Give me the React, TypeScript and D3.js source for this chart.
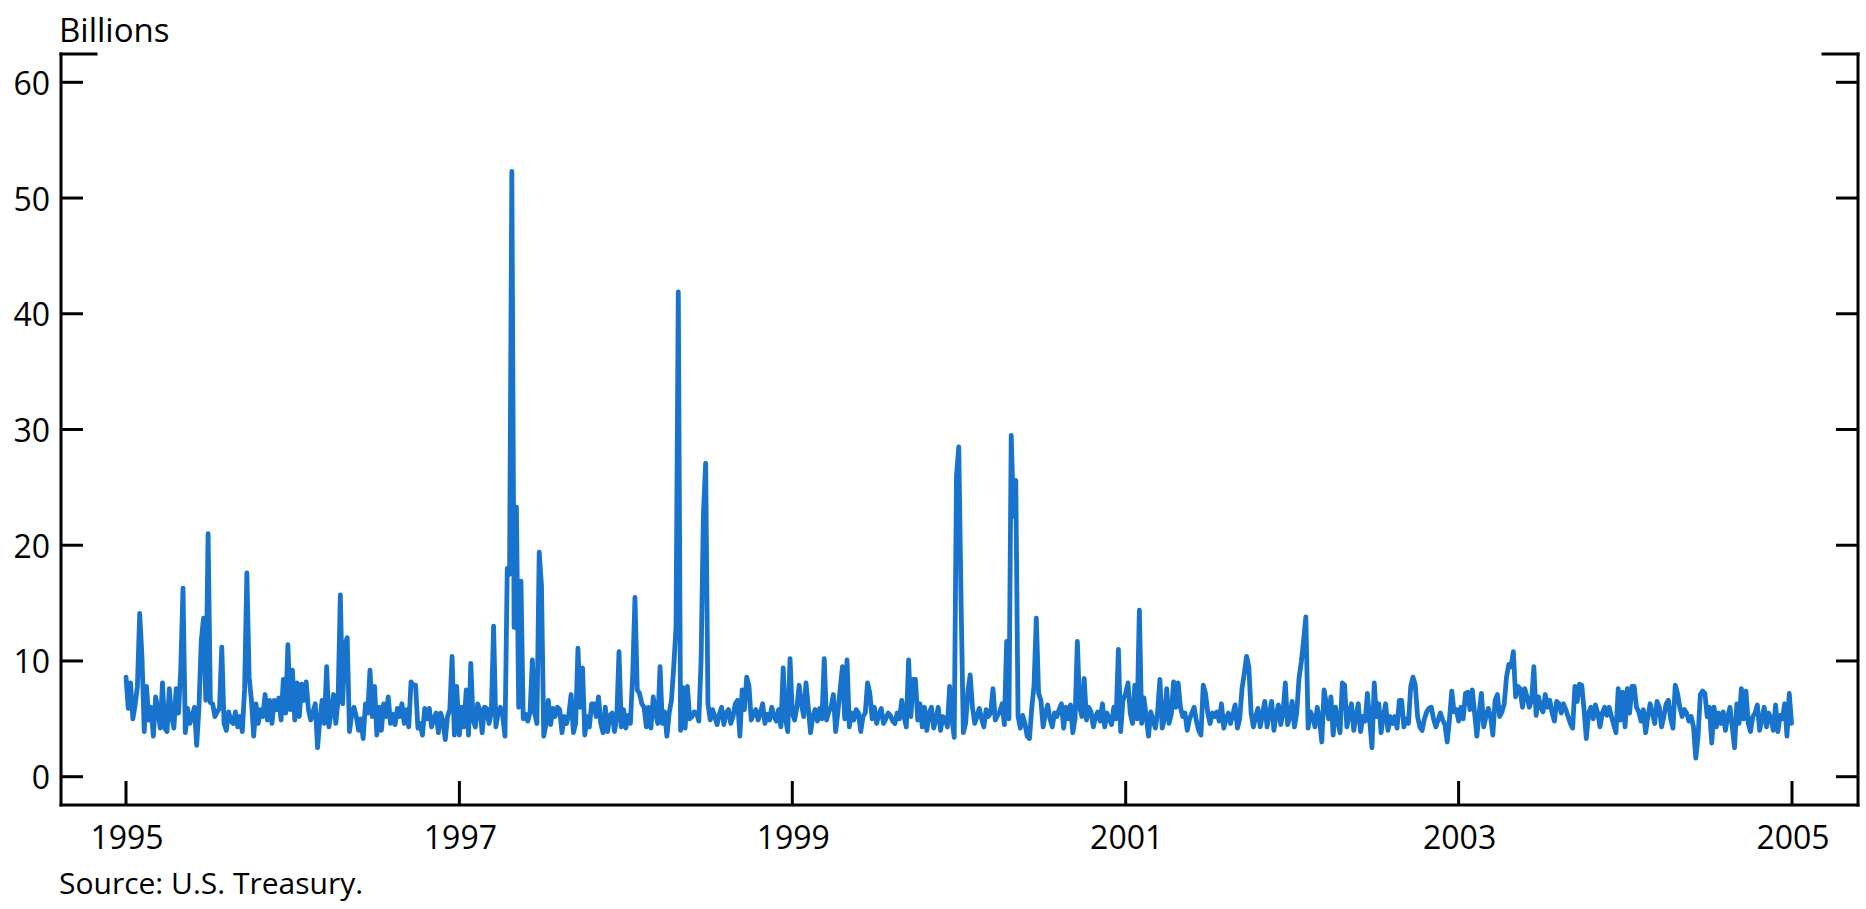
import React from "react";
import * as d3 from "d3";

// Values sampled every 5 days starting Jan 1 of each year (billions)
const v1995 = [8.6,5.9,8.1,5.0,6.2,7.8,14.1,10.4,3.9,7.8,4.9,6.0,3.5,6.9,5.8,4.2,8.1,4.2,3.9,7.6,5.2,4.2,7.6,5.5,9.2,16.3,3.8,5.9,4.6,5.2,6.0,2.7,6.0,11.7,13.7,6.6,21.0,6.4,6.3,5.2,5.6,5.9,11.2,4.6,4.0,5.6,4.8,4.6,5.6,4.3,5.2,3.9,7.5,17.6,8.6,6.6,3.5,6.3,4.6,5.8,5.2,7.1,4.9,6.6,4.6,6.6,5.8,6.8,4.9,8.4,5.5,11.4,5.8];
const v1996 = [9.2,4.9,8.1,5.2,8.0,6.6,8.2,5.8,4.9,5.6,6.3,2.5,4.9,6.6,4.6,9.5,4.3,5.6,7.1,4.6,6.6,15.7,6.3,11.4,12.0,3.9,5.4,6.0,5.2,4.0,5.0,3.3,6.3,5.5,9.2,5.2,7.8,3.6,6.0,4.0,6.3,5.2,6.9,4.6,5.4,4.5,5.9,5.2,6.3,4.6,5.8,4.3,8.2,7.9,7.9,4.2,4.6,3.6,5.9,5.0,5.9,4.3,5.0,5.5,3.8,5.5,4.8,3.2,5.2,5.8,10.4,3.6,7.8];
const v1997 = [3.6,6.0,4.3,7.5,3.6,9.8,4.9,4.3,6.3,5.8,3.8,6.0,5.9,4.6,5.5,13.0,4.3,5.5,6.0,5.2,3.5,18.0,17.5,52.3,12.9,23.3,6.0,16.9,5.0,5.4,4.8,5.6,10.1,5.5,4.6,19.4,16.5,3.5,4.6,6.6,4.5,5.9,5.2,6.0,5.8,3.8,5.2,4.6,5.4,7.1,3.8,4.6,11.1,6.0,9.4,3.6,5.2,4.3,6.3,6.3,5.2,6.9,4.6,3.8,6.0,3.9,5.3,5.5,3.9,5.0,10.8,4.3,5.8];
const v1998 = [4.2,5.3,4.6,8.8,15.5,7.5,7.2,6.3,6.0,4.3,6.0,4.2,6.9,5.5,4.6,9.5,4.6,5.6,3.5,5.5,6.6,9.5,12.9,41.9,4.0,7.7,4.2,7.8,5.0,5.2,5.6,5.5,4.8,10.1,22.6,27.1,6.3,4.9,5.8,5.2,4.5,5.4,6.0,4.5,5.5,5.8,4.6,5.2,6.3,6.6,3.5,7.5,5.8,8.6,7.8,4.9,5.4,5.8,4.9,5.5,6.3,4.6,5.4,4.9,6.0,5.2,4.8,5.8,4.3,9.4,5.0,3.9,10.2];
const v1999 = [5.5,4.9,6.0,7.9,6.3,5.2,8.1,6.0,3.8,5.2,5.8,4.8,5.9,5.0,10.2,4.9,5.6,6.0,7.1,3.9,5.6,7.6,9.5,5.0,10.1,4.3,5.5,4.9,5.8,5.5,3.9,5.2,5.5,8.1,7.2,5.0,6.0,4.6,5.4,5.9,4.6,5.0,5.5,5.3,4.8,4.6,5.5,5.0,6.6,5.2,4.3,10.1,5.2,8.4,8.4,4.9,6.3,4.3,6.0,4.0,5.5,6.0,4.2,5.0,6.0,4.0,5.2,5.0,4.3,7.8,5.0,3.4,26.0];
const v2000 = [28.5,15.2,3.8,4.6,7.4,8.8,6.0,4.6,5.2,5.9,5.0,4.3,5.8,5.2,5.5,7.6,4.9,5.3,5.6,6.3,4.5,11.7,5.0,29.5,22.5,25.6,5.2,4.2,5.3,4.6,3.5,3.3,5.9,7.9,13.7,7.2,6.6,4.3,5.5,6.2,5.0,4.3,5.5,5.2,5.8,6.3,4.2,6.0,5.0,6.2,3.8,5.0,11.7,6.0,5.2,8.5,4.9,6.0,5.6,4.3,5.2,5.6,4.8,6.3,4.3,5.5,5.0,4.5,6.0,5.0,11.0,3.9,6.6];
const v2001 = [7.2,8.1,5.5,4.6,7.9,5.0,14.4,4.6,6.8,5.2,3.5,5.6,4.9,4.2,5.6,8.4,4.2,5.0,7.6,4.6,5.4,8.2,6.0,8.1,6.0,5.2,5.5,4.0,5.0,5.5,6.0,4.8,4.0,3.6,7.9,7.2,5.5,4.6,5.5,5.2,5.6,4.8,6.3,4.2,5.0,5.5,4.6,5.4,6.2,4.2,5.0,7.6,8.9,10.4,9.5,5.5,4.3,5.2,5.9,4.3,5.4,6.5,4.3,5.5,6.5,4.0,5.4,6.2,4.5,5.5,8.1,4.5,5.2];
const v2002 = [6.5,4.3,5.5,8.5,9.9,11.7,13.8,4.2,5.6,5.2,4.3,6.0,5.0,3.0,7.5,6.3,5.0,6.9,3.6,6.0,4.8,3.8,8.1,7.9,4.3,5.5,6.3,4.0,5.2,6.3,3.9,5.2,4.8,7.2,4.9,2.5,8.1,5.2,6.3,3.8,5.2,6.3,4.0,5.2,4.6,5.2,4.2,6.6,6.6,4.3,5.0,4.6,7.8,8.6,7.9,5.2,4.3,4.0,5.0,5.6,5.9,6.0,5.0,4.3,4.9,5.5,4.9,4.5,3.0,5.0,7.4,5.6,5.8];
const v2003 = [4.8,6.0,5.0,7.2,7.3,5.8,7.5,5.5,3.5,5.5,7.2,4.3,5.2,5.9,5.2,3.6,6.6,7.1,5.2,5.6,6.3,8.6,9.7,9.5,10.8,6.9,7.8,7.6,6.0,7.6,6.9,6.0,6.6,9.5,5.3,6.9,6.0,5.6,7.1,6.0,6.6,5.5,4.8,6.5,6.3,5.5,6.3,5.8,5.2,4.6,4.2,7.8,6.5,8.0,7.9,5.8,3.3,5.5,6.0,5.0,6.2,5.5,4.3,5.5,6.0,5.3,6.0,5.2,4.5,3.8,7.6,4.9,7.3];
const v2004 = [4.3,7.6,5.5,7.8,7.8,6.0,5.6,4.8,5.8,3.8,5.2,6.3,5.5,4.6,6.5,6.0,4.3,5.2,6.3,6.6,5.0,4.2,7.9,7.2,6.0,5.2,5.8,5.5,4.8,5.2,4.3,1.6,3.5,7.1,7.4,7.2,5.2,6.0,2.9,6.0,4.3,5.5,4.6,5.6,4.0,5.2,6.0,4.3,2.5,6.3,4.6,7.6,5.0,7.4,4.6,3.9,5.2,5.5,6.2,4.0,5.0,6.0,4.3,5.5,5.0,4.0,6.2,3.9,5.3,5.0,6.3,3.5,7.2,4.6];

const yearSeries: [number, number[]][] = [
  [1995, v1995], [1996, v1996], [1997, v1997], [1998, v1998], [1999, v1999],
  [2000, v2000], [2001, v2001], [2002, v2002], [2003, v2003], [2004, v2004],
];
const stepDays = 5;

const xTickYears = [1995, 1997, 1999, 2001, 2003, 2005];
const yTicks = [0, 10, 20, 30, 40, 50, 60];

const W = 1866;
const H = 909;
const FONT = "'Open Sans', 'Noto Sans', sans-serif";
const BLUE = "#1873cd";

export default function App() {
  const points: { date: Date; value: number }[] = [];
  yearSeries.forEach(([yr, vals]) => {
    vals.forEach((v, i) => {
      points.push({ date: new Date(Date.UTC(yr, 0, 1 + i * stepDays)), value: v });
    });
  });

  const x = d3.scaleUtc()
    .domain([new Date(Date.UTC(1995, 0, 1)), new Date(Date.UTC(2005, 0, 1))])
    .range([126, 1792]);
  const y = d3.scaleLinear().domain([0, 60]).range([776.7, 82.3]);

  const line = d3.line<{ date: Date; value: number }>()
    .x((d) => x(d.date))
    .y((d) => y(d.value));

  const left = 61, right = 1858, top = 54, bottom = 805;
  const axisW = 3;

  return (
    <svg width={W} height={H} style={{ position: "absolute", left: 0, top: 0, background: "#fff" }}>
      <rect x={0} y={0} width={W} height={H} fill="#fff" />
      {/* frame */}
      <g stroke="#000" strokeWidth={axisW} fill="none" strokeLinecap="square">
        <line x1={left} y1={top} x2={left} y2={bottom} />
        <line x1={right} y1={top} x2={right} y2={bottom} />
        <line x1={left} y1={bottom} x2={right} y2={bottom} />
        <line x1={left} y1={top} x2={96} y2={top} />
        <line x1={1823} y1={top} x2={right} y2={top} />
        {yTicks.map((t) => (
          <g key={"yt" + t}>
            <line x1={left} y1={y(t)} x2={83} y2={y(t)} strokeLinecap="butt" />
            <line x1={1836} y1={y(t)} x2={right} y2={y(t)} strokeLinecap="butt" />
          </g>
        ))}
        {xTickYears.map((yr) => {
          const xx = x(new Date(Date.UTC(yr, 0, 1)));
          return <line key={"xt" + yr} x1={xx} y1={781} x2={xx} y2={bottom} strokeLinecap="butt" />;
        })}
      </g>
      {/* y labels */}
      <g fontFamily={FONT} fontSize={32} fill="#000" textAnchor="end">
        {yTicks.map((t) => (
          <text key={"yl" + t} x={50} y={y(t) + 12.5}>{t}</text>
        ))}
      </g>
      {/* x labels */}
      <g fontFamily={FONT} fontSize={32} fill="#000" textAnchor="middle">
        {xTickYears.map((yr) => (
          <text key={"xl" + yr} x={x(new Date(Date.UTC(yr, 0, 1))) + 1} y={849}>{yr}</text>
        ))}
      </g>
      <text x={59} y={42} fontFamily={FONT} fontSize={33} fill="#000">Billions</text>
      <text x={59} y={894} fontFamily={FONT} fontSize={30} fill="#000">Source: U.S. Treasury.</text>
      {/* data line */}
      <path d={line(points) || ""} fill="none" stroke={BLUE} strokeWidth={4.8} strokeLinejoin="round" strokeLinecap="round" />
    </svg>
  );
}
